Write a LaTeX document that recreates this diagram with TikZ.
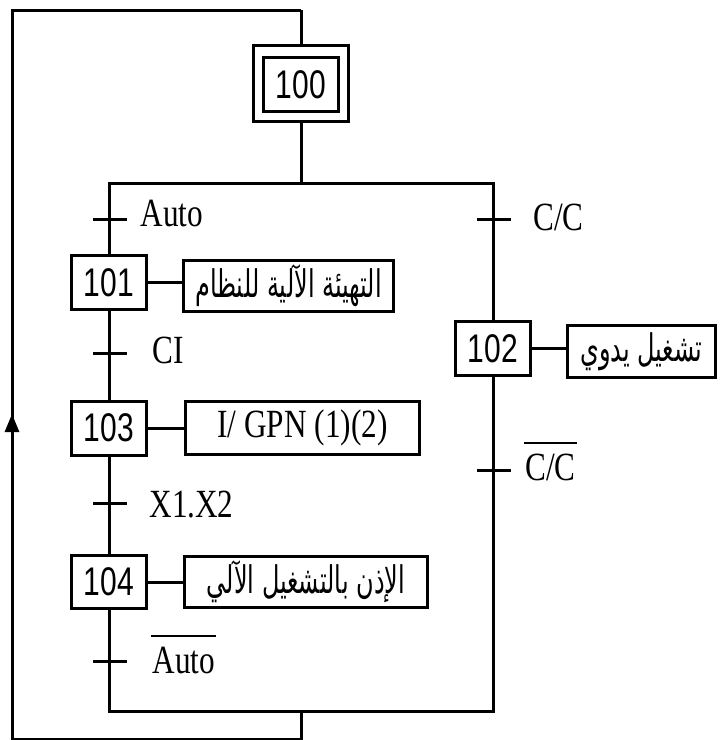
\documentclass[tikz,border=0pt]{standalone}
\usepackage{fontspec}
\usetikzlibrary{arrows.meta}
\TeXXeTstate=1
\setmainfont{Liberation Serif}[FakeStretch=0.78]
\newfontfamily\numfont{Liberation Sans}[FakeStretch=0.75]
\newfontfamily\arabicfont[Script=Arabic,FakeStretch=0.63]{DejaVu Sans}
\begin{document}
\begin{tikzpicture}[x=1pt,y=1pt,line width=3pt,
  stepbox/.style={draw,inner sep=0,minimum width=75pt,minimum height=54pt,
    font=\numfont\fontsize{40}{40}\selectfont},
  actbox/.style={draw,inner sep=0,minimum height=51.5pt},
  arlabel/.style={font=\arabicfont\fontsize{38}{40}\selectfont},
  trlabel/.style={anchor=base west,inner sep=0,font=\fontsize{40}{42}\selectfont},
  tick/.style={line width=3pt},
  bar/.style={line width=2.4pt}]
\useasboundingbox (0,0) rectangle (725,-740);
% step 100 (initial)
\node[draw,inner sep=0,minimum width=95pt,minimum height=76pt] (s100o) at (301,-83.5) {};
\node[stepbox] (s100) at (301,-84.5) {100};
% steps
\node[stepbox] (s101) at (109,-282.5) {101};
\node[stepbox] (s103) at (109,-428) {103};
\node[stepbox,minimum height=52.5pt] (s104) at (109,-582) {104};
\node[stepbox] (s102) at (493,-348.5) {102};
% actions
\node[actbox,arlabel,minimum width=210pt] (a101) at (288.5,-286) {\beginR التهيئة الآلية للنظام\endR};
\node[actbox,minimum width=234pt,minimum height=53pt,font=\fontsize{40}{42}\selectfont] (a103) at (302.5,-428) {I/ GPN (1)(2)};
\node[actbox,arlabel,minimum width=243pt] (a104) at (306,-582) {\beginR الإذن بالتشغيل الآلي\endR};
\node[actbox,arlabel,minimum width=148pt] (a102) at (641.5,-351.5) {\beginR تشغيل يدوي\endR};
% coordinates
\coordinate (tm) at (301,-10);
\coordinate (lt) at (12,-10);
\coordinate (lb) at (12,-739);
\coordinate (la) at (12,-414);
\coordinate (dm) at (301,-183);
\coordinate (dl) at (109,-183);
\coordinate (dr) at (493,-183);
\coordinate (bl) at (109,-711);
\coordinate (br) at (493,-711);
\coordinate (bm) at (301,-711);
\coordinate (bb) at (301,-739);
% transitions
\coordinate (t1) at (109,-219);
\coordinate (t3) at (109,-353);
\coordinate (t4) at (109,-503);
\coordinate (t5) at (109,-661);
\coordinate (t2) at (493,-219);
\coordinate (t6) at (493,-470);
% links
\draw (tm) -- (s100o.north);
\draw (s100o.south) -- (dm);
\draw (s101.north) -- (dl) -- (dr) -- (s102.north);
\draw (s101.south) -- (s103.north);
\draw (s103.south) -- (s104.north);
\draw (s104.south) -- (bl) -- (br) -- (s102.south);
\draw (bm) -- (bb) -- (lb) -- (lt) -- (tm);
\draw[-{Triangle[length=18pt,width=14pt]}] (lb) -- (la);
\draw (s101.east) -- (s101.east -| a101.west);
\draw (s103.east) -- (s103.east -| a103.west);
\draw (s104.east) -- (s104.east -| a104.west);
\draw (s102.east) -- (s102.east -| a102.west);
% transition ticks
\foreach \t in {t1,t2,t3,t4,t5,t6}
  \draw[tick] ([xshift=-16pt]\t) -- ([xshift=18pt]\t);
% transition labels
\node[trlabel] (l1) at (139,-226) {Auto};
\node[trlabel] (l3) at (151,-363) {CI};
\node[trlabel] (l4) at (148,-517) {X1.X2};
\node[trlabel] (l5) at (151,-673) {Auto};
\node[trlabel] (l2) at (532,-230) {C/C};
\node[trlabel] (l6) at (524,-480) {C/C};
\draw[bar] ([yshift=9pt]l5.north west) -- ([yshift=9pt]l5.north east);
\draw[bar] ([yshift=9pt]l6.north west) -- ([yshift=9pt]l6.north east);
\end{tikzpicture}
\end{document}
